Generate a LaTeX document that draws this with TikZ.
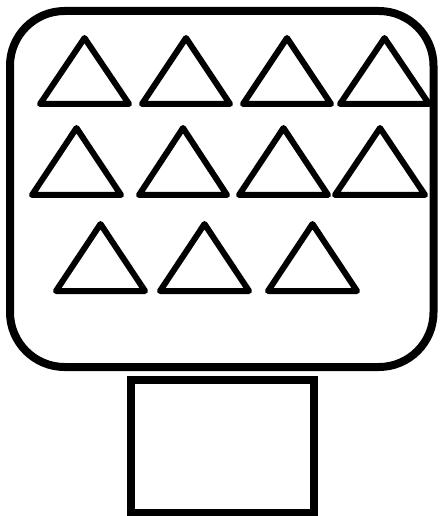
\documentclass[tikz,border=0pt]{standalone}
\begin{document}
\begin{tikzpicture}[x=0.75pt,y=-0.75pt,
  frame/.style={draw=black,line width=6pt,rounded corners=41pt},
  stand/.style={draw=black,line width=6pt},
  tri/.style={draw=black,line width=4.5pt,line join=round}]
\useasboundingbox (0,0) rectangle (440,516);
% screen
\path[frame] (10,11) rectangle (433.5,367);
% stand
\path[stand] (130.5,380) rectangle (314,512.5);
% triangles: base-left x, base-right x, base y, apex y
\foreach \l/\r/\b/\t in {40/129/104/38, 142/230/104/38, 243/331/104/38, 340/429/104/38,
  32/121/195/128, 139/227/195/128, 239/328/195/128, 335/425/195/128,
  56/145/291/224, 160/249/291/224, 268/357/291/224}{
  \path[tri] (\l,\b) -- ({(\l+\r)/2},\t) -- (\r,\b) -- cycle;
}
\end{tikzpicture}
\end{document}
